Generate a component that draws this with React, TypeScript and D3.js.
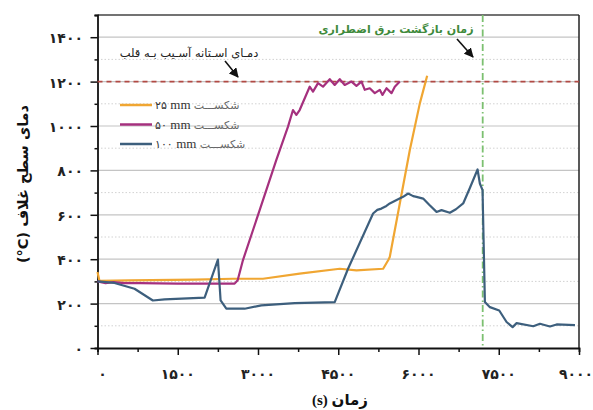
import React, { useEffect, useRef } from 'react';
import * as d3 from 'd3';

// داده‌ها (زمان s ، دما °C)
const series25 = [[0,342],[37,302],[600,305],[1815,308],[2532,312],[3093,312],[3779,335],[4528,357],[4840,350],[5339,357],[5433,395],[5463,410],[5838,892],[6025,1102],[6162,1226]];
const series50 = [[0,300],[150,292],[300,297],[500,292],[800,292],[1500,290],[2000,290],[2563,290],[2620,305],[2718,395],[3031,621],[3343,847],[3561,997],[3654,1072],[3717,1050],[3779,1072],[3966,1177],[4028,1155],[4122,1193],[4215,1177],[4341,1211],[4434,1185],[4528,1211],[4621,1185],[4747,1200],[4840,1181],[4934,1200],[4996,1163],[5089,1170],[5183,1148],[5276,1163],[5327,1140],[5402,1170],[5495,1148],[5557,1177],[5651,1200]];
const series100 = [[0,300],[318,293],[692,267],[1035,214],[1254,219],[2002,227],[2251,398],[2301,214],[2408,177],[2750,177],[3063,192],[3686,202],[4434,207],[4683,357],[5151,606],[5230,622],[5307,628],[5400,640],[5463,651],[5600,668],[5712,681],[5806,696],[5900,684],[5962,681],[6087,673],[6200,645],[6337,613],[6430,621],[6586,609],[6700,625],[6835,651],[6950,715],[7104,804],[7147,741],[7197,711],[7241,207],[7335,184],[7509,169],[7646,117],[7759,94],[7834,112],[8145,98],[8270,109],[8457,97],[8582,106],[8925,103]];

const seriesNames = ['۲۵', '۵۰', '۱۰۰'];
const seriesColors = ['#f0a632', '#a5307e', '#3d5f7d'];
const xTicks = [0, 1500, 3000, 4500, 6000, 7500, 9000];
const yTicks = [0, 200, 400, 600, 800, 1000, 1200, 1400];
const thresholdT = 1200;
const powerReturnTime = 7200;

const fa = (v: number) => String(v).replace(/\d/g, d => '۰۱۲۳۴۵۶۷۸۹'[+d]);

export default function App() {
  const svgRef = useRef<SVGSVGElement>(null);

  useEffect(() => {
    const svg = d3.select(svgRef.current);
    svg.selectAll('*').remove();
    const left = 97.5, right = 579, top = 15, bottom = 348;
    const x = d3.scaleLinear().domain([0, 9000]).range([left, right]);
    const y = d3.scaleLinear().domain([0, 1500]).range([bottom, top]);
    const fontFa = 'DejaVu Sans';

    // شبکه
    const minorY = d3.range(100, 1500, 200);
    svg.append('g').selectAll('line').data(minorY).join('line')
      .attr('x1', left).attr('x2', right).attr('y1', d => y(d)).attr('y2', d => y(d))
      .attr('stroke', '#d2d2d2').attr('stroke-dasharray', '1.5,2');
    svg.append('g').selectAll('line').data(yTicks.filter(d => d > 0)).join('line')
      .attr('x1', left).attr('x2', right).attr('y1', d => y(d)).attr('y2', d => y(d))
      .attr('stroke', '#c4c4c4').attr('stroke-width', 1.2);

    // قاب
    svg.append('line').attr('x1', left).attr('x2', right).attr('y1', top).attr('y2', top).attr('stroke', '#444').attr('stroke-width', 1.5);
    svg.append('line').attr('x1', right).attr('x2', right).attr('y1', top).attr('y2', bottom).attr('stroke', '#222').attr('stroke-width', 1.5);

    // محورها
    const yAxis = svg.append('g').attr('transform', `translate(${left},0)`);
    yAxis.call(d3.axisLeft(y).tickValues(d3.range(0, 1501, 100)).tickSize(3).tickFormat(() => ''));
    yAxis.selectAll('.tick line').filter((d: any) => d % 200 === 0).attr('x2', -7);
    yAxis.select('.domain').attr('stroke', '#111').attr('stroke-width', 1.8);
    yAxis.selectAll('.tick line').attr('stroke', '#111').attr('stroke-width', 1.5);

    const xAxis = svg.append('g').attr('transform', `translate(0,${bottom})`);
    xAxis.call(d3.axisBottom(x).tickValues(d3.range(0, 9001, 750)).tickSize(4).tickFormat(() => ''));
    xAxis.selectAll('.tick line').filter((d: any) => d % 1500 === 0).attr('y2', 7);
    xAxis.select('.domain').attr('stroke', '#111').attr('stroke-width', 1.8);
    xAxis.selectAll('.tick line').attr('stroke', '#111').attr('stroke-width', 1.5);

    svg.append('g').selectAll('text').data(yTicks).join('text')
      .attr('x', 83).attr('y', d => y(d) + 6).attr('text-anchor', 'end')
      .attr('font-family', fontFa).attr('font-size', 14).attr('font-weight', 'bold').attr('fill', '#222')
      .text(d => fa(d));
    svg.append('g').selectAll('text').data(xTicks).join('text')
      .attr('x', d => x(d) + (d === 0 ? 5 : d === 9000 ? -3 : 0)).attr('y', 379).attr('text-anchor', 'middle')
      .attr('font-family', fontFa).attr('font-size', 14).attr('font-weight', 'bold').attr('fill', '#222')
      .text(d => fa(d));

    // عنوان محورها
    svg.append('text').attr('transform', 'translate(28,184) rotate(-90)').attr('text-anchor', 'middle')
      .attr('font-family', fontFa).attr('font-size', 14.5).attr('font-weight', 'bold').attr('fill', '#111')
      .text('(°C) دمای سطح غلاف');
    const xt = svg.append('text').attr('x', 340).attr('y', 405).attr('text-anchor', 'middle')
      .attr('font-weight', 'bold').attr('fill', '#111').attr('font-size', 15);
    xt.append('tspan').attr('font-family', 'Liberation Serif').text('(s) ');
    xt.append('tspan').attr('font-family', fontFa).text('زمان');

    // خط آستانه و زمان بازگشت برق
    svg.append('line').attr('x1', left).attr('x2', right).attr('y1', y(thresholdT)).attr('y2', y(thresholdT))
      .attr('stroke', '#b24a44').attr('stroke-width', 1.6).attr('stroke-dasharray', '5,4');
    svg.append('line').attr('x1', x(powerReturnTime)).attr('x2', x(powerReturnTime)).attr('y1', top).attr('y2', bottom)
      .attr('stroke', '#7cc070').attr('stroke-width', 1.8).attr('stroke-dasharray', '7,3,1.5,3');

    // منحنی‌ها
    const line = d3.line<number[]>().x(d => x(d[0])).y(d => y(d[1]));
    [series25, series50, series100].forEach((s, i) => {
      svg.append('path').datum(s).attr('d', line).attr('fill', 'none')
        .attr('stroke', seriesColors[i]).attr('stroke-width', 2.2).attr('stroke-linejoin', 'round');
    });

    // راهنما
    seriesNames.forEach((n, i) => {
      const ly = 105 + i * 19.5;
      svg.append('line').attr('x1', 120).attr('x2', 152).attr('y1', ly).attr('y2', ly)
        .attr('stroke', seriesColors[i]).attr('stroke-width', 2.5);
      const t = svg.append('text').attr('x', 155).attr('y', ly + 4).attr('font-size', 12).attr('fill', '#333');
      t.append('tspan').attr('font-family', fontFa).attr('font-size', 11).text(n + ' ');
      t.append('tspan').attr('font-family', 'Liberation Serif').attr('font-size', 13).text('mm ');
      t.append('tspan').attr('font-family', fontFa).attr('font-size', 11).attr('fill', '#666').text(' شکســـت');
    });

    // حاشیه‌نویسی‌ها
    svg.append('defs').append('marker').attr('id', 'arr').attr('viewBox', '0 0 10 10').attr('refX', 9).attr('refY', 5)
      .attr('markerWidth', 6).attr('markerHeight', 6).attr('orient', 'auto')
      .append('path').attr('d', 'M0,0L10,5L0,10z').attr('fill', '#111');
    svg.append('text').attr('x', 189).attr('y', 57).attr('text-anchor', 'middle')
      .attr('font-family', fontFa).attr('font-size', 11.5).attr('fill', '#222')
      .text('دمـای اسـتانه آسـیب بـه قلب');
    svg.append('line').attr('x1', 225).attr('y1', 61).attr('x2', 238).attr('y2', 77)
      .attr('stroke', '#111').attr('stroke-width', 1.6).attr('marker-end', 'url(#arr)');
    svg.append('text').attr('x', 396).attr('y', 33).attr('text-anchor', 'middle')
      .attr('font-family', fontFa).attr('font-size', 11).attr('font-weight', 'bold').attr('fill', '#3f8a3c')
      .text('زمان بازگشت برق اضطراری');
    svg.append('line').attr('x1', 457).attr('y1', 39).attr('x2', 473).attr('y2', 57)
      .attr('stroke', '#111').attr('stroke-width', 1.6).attr('marker-end', 'url(#arr)');
  }, []);

  return (
    <div style={{ position: 'absolute', left: 0, top: 0, width: 593, height: 410, background: '#fff' }}>
      <svg ref={svgRef} width={593} height={410}></svg>
    </div>
  );
}
